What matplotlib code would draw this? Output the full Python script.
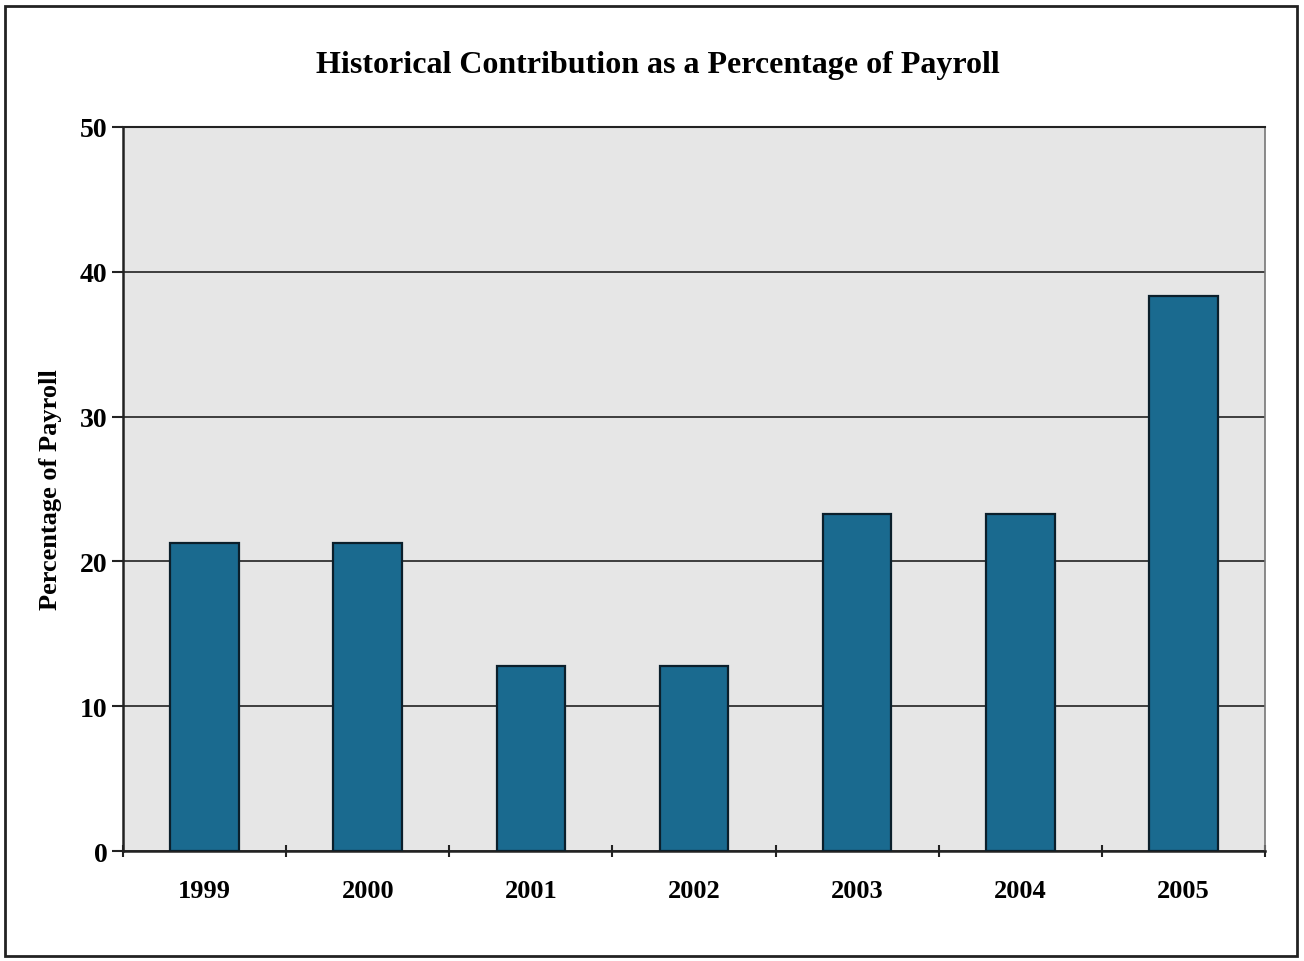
import matplotlib
matplotlib.use("Agg")
import matplotlib.pyplot as plt
import numpy as np
from matplotlib.patches import Rectangle

years = ["1999", "2000", "2001", "2002", "2003", "2004", "2005"]
pct_of_payroll = [21.3, 21.3, 12.8, 12.8, 23.3, 23.3, 38.3]
y_ticks = [0, 10, 20, 30, 40, 50]

plt.rcParams['font.family'] = ['Liberation Serif', 'DejaVu Serif']

fig = plt.figure(figsize=(13.04, 9.62), dpi=100)
ax = fig.add_axes([123/1304, 1 - 852/962, (1265-123)/1304, (852-128)/962])

# border around the whole chart
fig.patches.append(Rectangle((5/1304, 5/962), 1292/1304, 950/962,
                             transform=fig.transFigure, fill=False,
                             edgecolor='#222222', linewidth=2))

x = np.arange(len(years))
ax.set_facecolor('#e6e6e6')
ax.bar(x, pct_of_payroll, width=0.42, color='#1a6a8f',
       edgecolor='#0b1f2b', linewidth=1.6, zorder=3)

ax.set_xlim(-0.5, len(years) - 0.5)
ax.set_ylim(0, 50)
ax.set_yticks(y_ticks)
ax.set_yticklabels([str(v) for v in y_ticks], fontsize=20, fontweight='bold')
ax.yaxis.grid(True, color='#222222', linewidth=1.2, zorder=1)
ax.set_axisbelow(True)

# category labels centred, tick marks on the category boundaries
ax.set_xticks(x)
ax.set_xticklabels(years, fontsize=19, fontweight='bold')
ax.tick_params(axis='x', length=0, pad=20)
ax.set_xticks(np.arange(-0.5, len(years)), minor=True)
ax.tick_params(axis='x', which='minor', length=8, width=1.5, direction='inout', color='#222222')
ax.tick_params(axis='y', length=8, width=1.5, direction='out', color='#222222', pad=3)

for side in ['left', 'bottom']:
    ax.spines[side].set_color('#222222')
    ax.spines[side].set_linewidth(1.8)
ax.spines['top'].set_color('#222222')
ax.spines['top'].set_linewidth(1.5)
ax.spines['right'].set_color('#777777')
ax.spines['right'].set_linewidth(1.2)

ax.set_ylabel("Percentage of Payroll", fontsize=19, fontweight='bold', labelpad=13)
fig.text(658/1304, 1 - 65/962, "Historical Contribution as a Percentage of Payroll",
         ha='center', va='center', fontsize=23, fontweight='bold')

fig.savefig("out.png", dpi=100, facecolor='white')
